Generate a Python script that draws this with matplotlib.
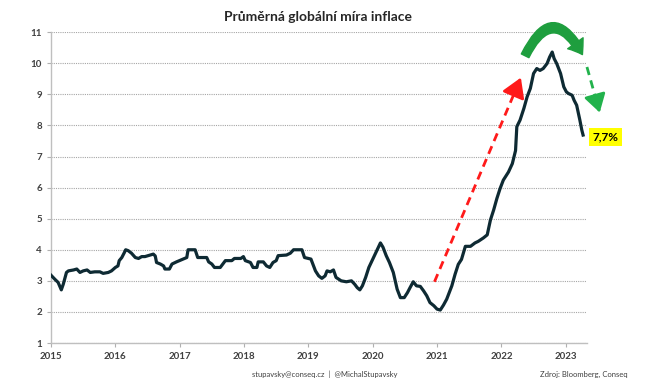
"""
Průměrná globální míra inflace - line chart with annotation arrows.
"""

import matplotlib.pyplot as plt
from matplotlib.patches import FancyArrowPatch

# Data (decimal year, inflation in %)
dates = [
    2015.00, 2015.06, 2015.11, 2015.16, 2015.19, 2015.24, 2015.27, 2015.35, 2015.40, 2015.45,
    2015.50, 2015.56, 2015.61, 2015.68, 2015.76, 2015.81, 2015.89, 2015.94, 2016.00, 2016.04,
    2016.06, 2016.10, 2016.14, 2016.16, 2016.20, 2016.25, 2016.31, 2016.36, 2016.41, 2016.46,
    2016.54, 2016.59, 2016.62, 2016.64, 2016.70, 2016.75, 2016.77, 2016.84, 2016.88, 2016.95,
    2017.03, 2017.11, 2017.13, 2017.24, 2017.28, 2017.42, 2017.45, 2017.50, 2017.54, 2017.63,
    2017.71, 2017.81, 2017.85, 2017.95, 2017.99, 2018.02, 2018.10, 2018.14, 2018.20, 2018.22,
    2018.30, 2018.35, 2018.40, 2018.45, 2018.50, 2018.53, 2018.66, 2018.72, 2018.77, 2018.90,
    2018.94, 2019.04, 2019.11, 2019.16, 2019.21, 2019.26, 2019.29, 2019.34, 2019.39, 2019.43,
    2019.51, 2019.59, 2019.67, 2019.72, 2019.76, 2019.80, 2019.84, 2019.89, 2019.94, 2019.99,
    2020.05, 2020.10, 2020.12, 2020.16, 2020.21, 2020.26, 2020.32, 2020.38, 2020.43, 2020.49,
    2020.54, 2020.58, 2020.63, 2020.68, 2020.74, 2020.79, 2020.84, 2020.89, 2020.95, 2021.00,
    2021.05, 2021.10, 2021.15, 2021.23, 2021.28, 2021.33, 2021.38, 2021.44, 2021.52, 2021.59,
    2021.64, 2021.72, 2021.78, 2021.83, 2021.88, 2021.93, 2021.98, 2022.03, 2022.11, 2022.17,
    2022.22, 2022.24, 2022.29, 2022.35, 2022.40, 2022.45, 2022.50, 2022.55, 2022.60, 2022.65,
    2022.71, 2022.75, 2022.79, 2022.82, 2022.86, 2022.92, 2022.97, 2023.01, 2023.04, 2023.10,
    2023.13, 2023.17, 2023.22, 2023.25, 2023.27,
]
inflation = [
    3.18, 3.05, 2.95, 2.71, 2.89, 3.27, 3.32, 3.35, 3.38, 3.27,
    3.32, 3.35, 3.27, 3.29, 3.29, 3.24, 3.27, 3.32, 3.43, 3.48,
    3.65, 3.75, 3.91, 4.00, 3.97, 3.89, 3.75, 3.72, 3.78, 3.78,
    3.83, 3.86, 3.80, 3.59, 3.54, 3.48, 3.38, 3.38, 3.54, 3.61,
    3.68, 3.75, 4.00, 4.00, 3.75, 3.75, 3.61, 3.54, 3.43, 3.43,
    3.65, 3.65, 3.72, 3.72, 3.78, 3.65, 3.59, 3.43, 3.43, 3.61,
    3.61, 3.48, 3.43, 3.59, 3.65, 3.81, 3.83, 3.89, 4.00, 4.00,
    3.75, 3.70, 3.32, 3.16, 3.08, 3.16, 3.32, 3.29, 3.35, 3.11,
    3.00, 2.97, 3.00, 2.89, 2.78, 2.71, 2.84, 3.11, 3.43, 3.65,
    3.91, 4.13, 4.22, 4.08, 3.81, 3.59, 3.27, 2.73, 2.46, 2.46,
    2.62, 2.78, 2.97, 2.84, 2.82, 2.68, 2.52, 2.30, 2.20, 2.09,
    2.06, 2.22, 2.41, 2.84, 3.21, 3.53, 3.69, 4.11, 4.11, 4.22,
    4.27, 4.38, 4.48, 4.96, 5.28, 5.65, 5.97, 6.24, 6.50, 6.77,
    7.19, 7.96, 8.17, 8.55, 8.92, 9.19, 9.67, 9.83, 9.77, 9.83,
    9.99, 10.20, 10.36, 10.15, 9.99, 9.67, 9.24, 9.08, 9.03, 8.97,
    8.81, 8.65, 8.17, 7.85, 7.69,
]

year_ticks = [2015, 2016, 2017, 2018, 2019, 2020, 2021, 2022, 2023]
y_ticks = [1, 2, 3, 4, 5, 6, 7, 8, 9, 10, 11]

# Annotation arrows (start, end)
red_start, red_end = (2020.96, 2.97), (2022.32, 9.62)
green_arc_start, green_arc_end = (2022.35, 10.16), (2023.28, 10.2)
green_start, green_end = (2023.33, 9.88), (2023.54, 8.33)
last_label = '7,7%'

plt.rcParams['font.family'] = ['Lato', 'DejaVu Sans']

fig = plt.figure(figsize=(6.5, 3.9), dpi=100)
ax = fig.add_axes([0.0785, 0.1205, 0.8245, 0.797])

ax.plot(dates, inflation, color='#0e2a33', linewidth=2.3, solid_joinstyle='round', zorder=3)

ax.set_xlim(2015, 2023.33)
ax.set_ylim(1, 11)
ax.set_xticks(year_ticks)
ax.set_xticklabels([str(y) for y in year_ticks])
ax.set_yticks(y_ticks)
ax.tick_params(axis='both', labelsize=7, colors='#b0b0b0', labelcolor='#404040',
               length=3, width=0.8, direction='out')
for lab in ax.get_xticklabels() + ax.get_yticklabels():
    lab.set_fontweight('bold')

ax.grid(axis='y', color='#a6a6a6', linestyle=(0, (1, 1)), linewidth=0.8)
ax.set_axisbelow(True)
for s in ['top', 'right']:
    ax.spines[s].set_visible(False)
for s in ['left', 'bottom']:
    ax.spines[s].set_color('#bfbfbf')
    ax.spines[s].set_linewidth(1.0)

# Red dashed arrow
frac = 0.93
mid = (red_start[0] + frac * (red_end[0] - red_start[0]),
       red_start[1] + frac * (red_end[1] - red_start[1]))
ax.plot([red_start[0], mid[0]], [red_start[1], mid[1]], color='#ff1a1a',
        linewidth=2.0, linestyle=(0, (3, 2)), zorder=4)
ax.annotate('', xy=red_end, xytext=mid,
            arrowprops=dict(arrowstyle='-|>,head_length=0.9,head_width=0.55',
                            color='#ff1a1a', lw=2.0, mutation_scale=13),
            zorder=4)

# Green curved arrow over the peak
arc = FancyArrowPatch(green_arc_start, green_arc_end,
                      connectionstyle='arc3,rad=-1.0',
                      arrowstyle='simple,head_length=0.6,head_width=0.85,tail_width=0.38',
                      mutation_scale=16, color='#1e9e3e', clip_on=False, zorder=5)
ax.add_patch(arc)

# Green dashed arrow down
gfrac = 0.82
gmid = (green_start[0] + gfrac * (green_end[0] - green_start[0]),
        green_start[1] + gfrac * (green_end[1] - green_start[1]))
ax.plot([green_start[0], gmid[0]], [green_start[1], gmid[1]], color='#22b24c',
        linewidth=2.0, linestyle=(0, (3, 2)), clip_on=False, zorder=4)
ax.annotate('', xy=green_end, xytext=gmid,
            arrowprops=dict(arrowstyle='-|>,head_length=0.9,head_width=0.55',
                            color='#22b24c', lw=2.0, mutation_scale=12),
            annotation_clip=False, zorder=4)

# Last value label
ax.text(2023.62, 7.62, last_label, fontsize=8.5, fontweight='bold', color='black',
        ha='center', va='center', clip_on=False,
        bbox=dict(facecolor='#ffff00', edgecolor='none', pad=2.5))

fig.text(0.49, 0.956, 'Průměrná globální míra inflace', ha='center', va='center',
         fontsize=10, fontweight='bold', color='#262626')
fig.text(0.5, 0.04, 'stupavsky@conseq.cz  |  @MichalStupavsky', ha='center', va='center',
         fontsize=5.5, color='#404040')
fig.text(0.965, 0.04, 'Zdroj: Bloomberg, Conseq', ha='right', va='center',
         fontsize=5.5, color='#404040')

fig.savefig('out.png', dpi=100)
